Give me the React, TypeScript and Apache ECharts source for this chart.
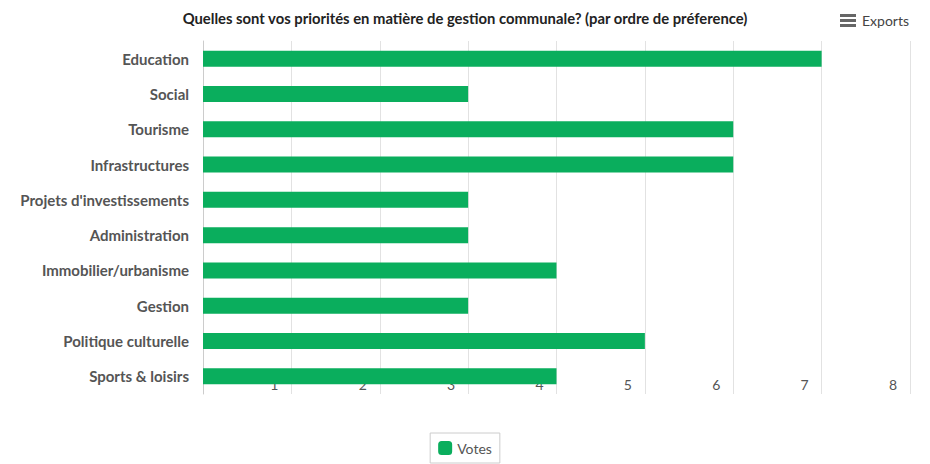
import React, { useEffect, useRef } from "react";
import * as echarts from "echarts";

const categories = [
  "Education",
  "Social",
  "Tourisme",
  "Infrastructures",
  "Projets d'investissements",
  "Administration",
  "Immobilier/urbanisme",
  "Gestion",
  "Politique culturelle",
  "Sports & loisirs",
];
const votes = [7, 3, 6, 6, 3, 3, 4, 3, 5, 4];
const seriesName = "Votes";
const titleText =
  "Quelles sont vos priorités en matière de gestion communale? (par ordre de préference)";

const FONT = "Lato, 'Noto Sans', sans-serif";

export default function App() {
  const ref = useRef<HTMLDivElement>(null);
  useEffect(() => {
    if (!ref.current) return;
    const chart = echarts.init(ref.current, undefined, { renderer: "svg" });
    chart.setOption({
      animation: false,
      title: {
        text: titleText,
        left: "center",
        top: 5,
        textStyle: { fontFamily: FONT, fontSize: 14.8, fontWeight: "bold", color: "#222" },
      },
      legend: {
        data: [seriesName],
        left: "center",
        top: 433,
        icon: "roundRect",
        itemWidth: 14,
        itemHeight: 14,
        itemGap: 6,
        borderColor: "#ccc",
        borderWidth: 1,
        padding: [8, 8, 8, 8],
        textStyle: { fontFamily: FONT, fontSize: 14, color: "#555" },
      },
      grid: { left: 203, right: 20, top: 41, bottom: 70, containLabel: false, outerBoundsMode: "none" },
      xAxis: {
        type: "value",
        min: 0,
        max: 8,
        interval: 1,
        axisLine: { show: false },
        axisTick: { show: false },
        splitLine: { show: true, lineStyle: { color: "#e2e2e2", width: 1 } },
        axisLabel: {
          margin: -17,
          align: "right",
          padding: [0, 13, 0, 0],
          fontFamily: FONT,
          fontSize: 14,
          color: "#555",
          formatter: (v: number) => (v === 0 ? "" : String(v)),
        },
      },
      yAxis: {
        type: "category",
        data: categories,
        inverse: true,
        axisLine: { show: true, lineStyle: { color: "#ccc" } },
        axisTick: { show: false },
        axisLabel: {
          margin: 14,
          fontFamily: FONT,
          fontSize: 15,
          fontWeight: "bold",
          color: "#555",
        },
      },
      series: [
        {
          name: seriesName,
          type: "bar",
          data: votes,
          barWidth: 16,
          itemStyle: { color: "#0aae5d" },
        },
      ],
      graphic: [
        { type: "rect", left: 840, top: 14, shape: { width: 16, height: 3 }, style: { fill: "#666" } },
        { type: "rect", left: 840, top: 19, shape: { width: 16, height: 3 }, style: { fill: "#666" } },
        { type: "rect", left: 840, top: 24, shape: { width: 16, height: 3 }, style: { fill: "#666" } },
        {
          type: "text",
          left: 862,
          top: 13,
          style: { text: "Exports", fontFamily: FONT, fontSize: 14, fill: "#444" },
        },
      ],
    });
    return () => chart.dispose();
  }, []);
  return <div ref={ref} style={{ width: 930, height: 464, position: "absolute", left: 0, top: 0 }} />;
}
